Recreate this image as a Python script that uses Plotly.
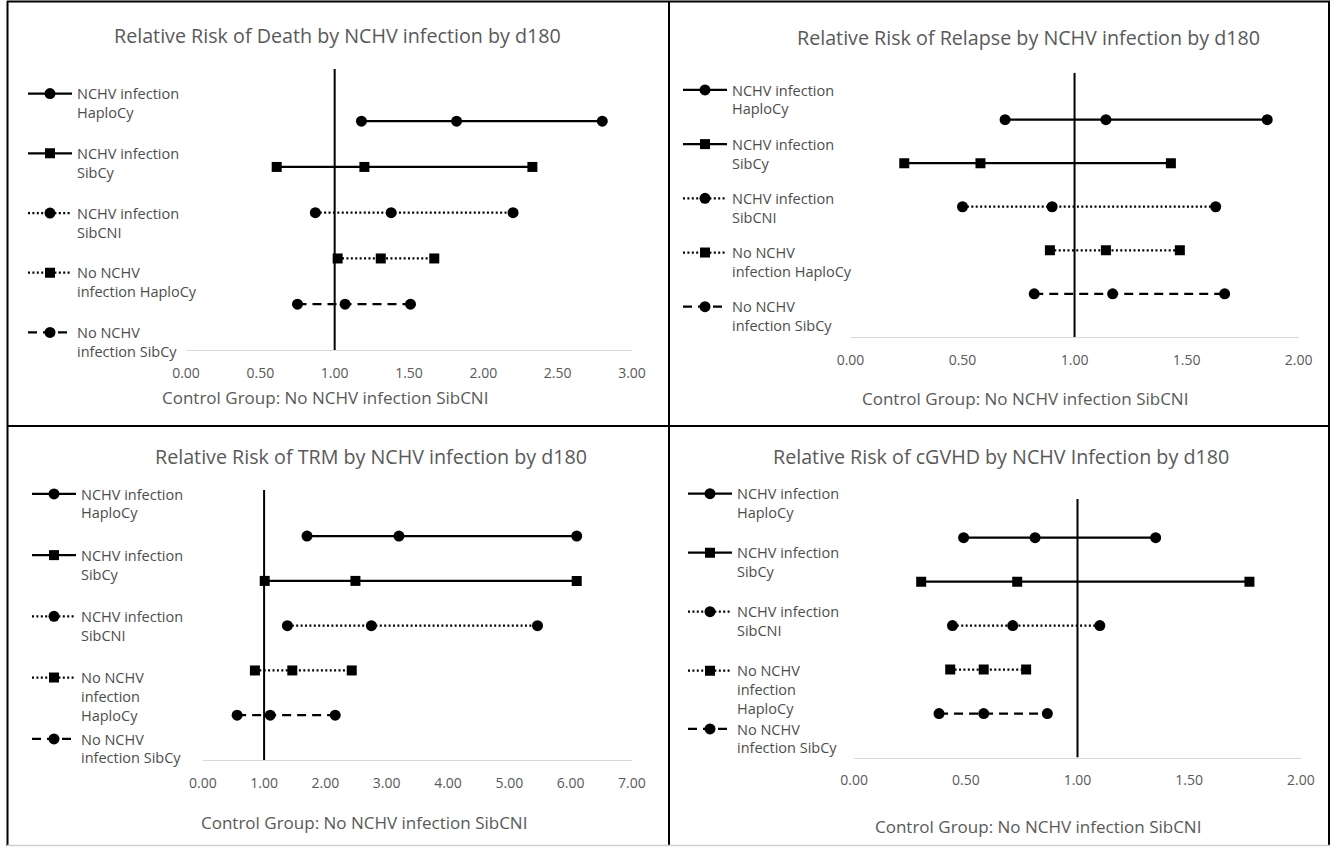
import plotly.graph_objects as go

W, H = 1337, 847

# ---------------- data ----------------
series_styles = ["solid-circle", "solid-square", "dot-circle", "dot-square", "dash-circle"]
row_pos = [5, 4, 3, 2, 1]

names_a = ["NCHV infection<br>HaploCy", "NCHV infection<br>SibCy", "NCHV infection<br>SibCNI",
           "No NCHV<br>infection HaploCy", "No NCHV<br>infection SibCy"]
names_b = ["NCHV infection<br>HaploCy", "NCHV infection<br>SibCy", "NCHV infection<br>SibCNI",
           "No NCHV<br>infection<br>HaploCy", "No NCHV<br>infection SibCy"]

death_low = [1.18, 0.61, 0.87, 1.02, 0.75]
death_est = [1.82, 1.20, 1.38, 1.31, 1.07]
death_high = [2.80, 2.33, 2.20, 1.67, 1.51]

relapse_low = [0.69, 0.24, 0.50, 0.89, 0.82]
relapse_est = [1.14, 0.58, 0.90, 1.14, 1.17]
relapse_high = [1.86, 1.43, 1.63, 1.47, 1.67]

trm_low = [1.70, 1.01, 1.38, 0.85, 0.56]
trm_est = [3.20, 2.49, 2.75, 1.46, 1.10]
trm_high = [6.10, 6.10, 5.46, 2.43, 2.16]

cgvhd_low = [0.49, 0.30, 0.44, 0.43, 0.38]
cgvhd_est = [0.81, 0.73, 0.71, 0.58, 0.58]
cgvhd_high = [1.35, 1.77, 1.10, 0.77, 0.865]

titles = ["Relative Risk of Death by NCHV infection by d180",
          "Relative Risk of Relapse by NCHV infection by d180",
          "Relative Risk of TRM by NCHV infection by d180",
          "Relative Risk of cGVHD by NCHV Infection by d180"]
axis_title = "Control Group: No NCHV infection SibCNI"
reference_value = 1.0

# ---------------- layout helpers (screen px -> paper) ----------------
OFF = 0  # body margin removed by post_script below

def px(x):
    return (x - OFF) / W

def py(y):
    return 1 - (y - OFF) / H

FONT = "Open Sans"
GREY = "#595959"

panels = [
    dict(low=death_low, est=death_est, high=death_high, names=names_a, xmax=3, dtick=0.5,
         xpx=(186, 632), ypx=(350, 69), ytop=6.14, title_xy=(337, 36), atitle_xy=(325, 397),
         leg_x=23, leg_y=[92.7], split=False),
    dict(low=relapse_low, est=relapse_est, high=relapse_high, names=names_a, xmax=2, dtick=0.5,
         xpx=(850.5, 1298.6), ypx=(337.3, 72.7), ytop=6.08, title_xy=(1028, 37), atitle_xy=(1025, 398),
         leg_x=678, leg_y=[89], split=False),
    dict(low=trm_low, est=trm_est, high=trm_high, names=names_b, xmax=7, dtick=1,
         xpx=(202.8, 631.9), ypx=(760, 490), ytop=6.03, title_xy=(371, 457), atitle_xy=(364, 822),
         leg_x=27, leg_y=[493, 738], split=True),
    dict(low=cgvhd_low, est=cgvhd_est, high=cgvhd_high, names=names_b, xmax=2, dtick=0.5,
         xpx=(854.2, 1300.8), ypx=(757.5, 499), ytop=5.88, title_xy=(1001, 457), atitle_xy=(1038, 826),
         leg_x=683, leg_y=[492.7, 728], split=True),
]
leg_gaps = [19, 13.5, 20.5, 18.3]

dash_map = {"solid": "solid", "dot": "2px,2.4px", "dash": "9px,6px"}

fig = go.Figure()
annotations = []
layout_axes = {}
legend_defs = {}
leg_counter = 0

for p_i, p in enumerate(panels):
    ax_n = "" if p_i == 0 else str(p_i + 1)
    xa, ya = "x" + ax_n, "y" + ax_n
    leg_main_idx = leg_counter
    leg_counter += 1
    leg_main = "legend" if leg_main_idx == 0 else "legend" + str(leg_main_idx + 1)
    leg_extra = None
    if p["split"]:
        leg_extra_idx = leg_counter
        leg_counter += 1
        leg_extra = "legend" + str(leg_extra_idx + 1)

    for s_i in range(5):
        dash, sym = series_styles[s_i].split("-")
        leg = leg_main
        if p["split"] and s_i == 4:
            leg = leg_extra
        fig.add_trace(go.Scatter(
            x=[p["low"][s_i], p["est"][s_i], p["high"][s_i]],
            y=[row_pos[s_i]] * 3,
            mode="lines+markers",
            name=p["names"][s_i],
            legendgroup="p%d_s%d" % (p_i, s_i),
            legend=leg,
            line=dict(color="black", width=2.25, dash=dash_map[dash]),
            marker=dict(symbol=sym, size=11 if sym == "circle" else 10, color="black"),
            xaxis=xa, yaxis=ya,
        ))
    fig.add_trace(go.Scatter(
        x=[reference_value, reference_value], y=[0, p["ytop"]],
        mode="lines", line=dict(color="black", width=2),
        showlegend=False, hoverinfo="skip", xaxis=xa, yaxis=ya,
    ))

    layout_axes["xaxis" + ax_n] = dict(
        domain=[px(p["xpx"][0]), px(p["xpx"][1])],
        range=[0, p["xmax"]], dtick=p["dtick"], tick0=0, tickformat=".2f",
        showgrid=False, zeroline=False, showline=True, linecolor="#d9d9d9", linewidth=1,
        ticks="", ticklabelstandoff=10,
        tickfont=dict(family=FONT, size=14, color=GREY),
        anchor=ya, fixedrange=True, automargin=False,
    )
    layout_axes["yaxis" + ax_n] = dict(
        domain=[py(p["ypx"][0]), py(p["ypx"][1])],
        range=[0, p["ytop"]], visible=False, anchor=xa, fixedrange=True, automargin=False,
    )
    annotations.append(dict(
        text=titles[p_i], x=px(p["title_xy"][0]), y=py(p["title_xy"][1]),
        xref="paper", yref="paper", xanchor="center", yanchor="middle", showarrow=False,
        font=dict(family=FONT, size=19.7, color=GREY),
    ))
    annotations.append(dict(
        text=axis_title, x=px(p["atitle_xy"][0]), y=py(p["atitle_xy"][1]),
        xref="paper", yref="paper", xanchor="center", yanchor="middle", showarrow=False,
        font=dict(family=FONT, size=17, color=GREY),
    ))
    common = dict(
        xanchor="left", yanchor="top", bgcolor="rgba(0,0,0,0)", borderwidth=0,
        font=dict(family=FONT, size=14.5, color="#4d4d4d"),
        valign="top", itemwidth=44, traceorder="grouped",
        tracegroupgap=leg_gaps[p_i], itemclick=False, itemdoubleclick=False,
    )
    legend_defs[leg_main] = dict(x=px(p["leg_x"]), y=py(p["leg_y"][0] - 15), **common)
    if leg_extra:
        legend_defs[leg_extra] = dict(x=px(p["leg_x"]), y=py(p["leg_y"][1] - 15), **common)

shapes = []
frame = dict(type="line", xref="paper", yref="paper", line=dict(color="black", width=2))
shapes.append(dict(frame, x0=px(7.5), x1=px(7.5), y0=py(1), y1=py(846)))
shapes.append(dict(frame, x0=px(1329), x1=px(1329), y0=py(1), y1=py(846)))
shapes.append(dict(frame, x0=px(7), x1=px(1330), y0=py(1.5), y1=py(1.5)))
shapes.append(dict(frame, x0=px(669), x1=px(669), y0=py(1), y1=py(846)))
shapes.append(dict(frame, x0=px(7), x1=px(1330), y0=py(426), y1=py(426)))
shapes.append(dict(type="line", xref="paper", yref="paper", x0=px(7), x1=px(1330),
                   y0=py(845.5), y1=py(845.5), line=dict(color="#cfcfcf", width=1.5)))

fig.update_layout(
    width=W, height=H,
    margin=dict(l=0, r=0, t=0, b=0, pad=0, autoexpand=False),
    paper_bgcolor="white", plot_bgcolor="white",
    annotations=annotations, shapes=shapes,
    hovermode=False,
    **layout_axes, **legend_defs,
)

fig.write_html("out.html", config={"displayModeBar": False},
               post_script="document.body.style.margin='0px';")
